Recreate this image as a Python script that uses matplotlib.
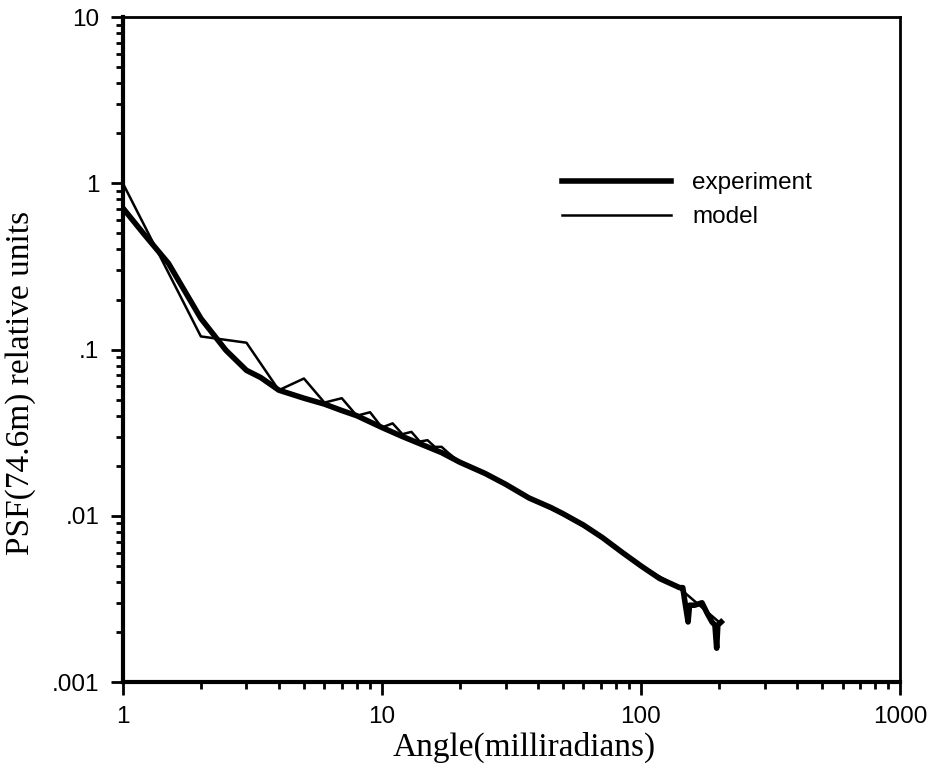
import matplotlib
matplotlib.use("Agg")
import matplotlib.pyplot as plt
from matplotlib.ticker import LogLocator, FixedLocator, FixedFormatter, NullFormatter

# measured PSF (thick line)
exp_angle = [1, 1.2, 1.5, 2, 2.5, 3, 3.4, 4, 5, 6, 7, 8, 10, 12, 15, 17, 20,
             25, 30, 37, 45, 50, 60, 71, 85, 100, 118, 141, 145, 148, 152,
             154, 161, 172, 180, 188, 193, 196, 198, 204]
exp_psf = [0.71, 0.50, 0.33, 0.154, 0.099, 0.075, 0.068, 0.057, 0.051, 0.047,
           0.043, 0.040, 0.034, 0.030, 0.026, 0.024, 0.021, 0.018, 0.0155,
           0.0128, 0.0112, 0.0103, 0.0088, 0.0074, 0.0060, 0.0050, 0.0042,
           0.0037, 0.0037, 0.0030, 0.0023, 0.0029, 0.0029, 0.0030, 0.0026,
           0.0023, 0.0022, 0.0016, 0.0022, 0.0023]

# model PSF (thin line), sampled at integer angles near the core
mod_angle = [1, 2, 3, 4, 5, 6, 7, 8, 9, 10, 11, 12, 13, 14, 15, 16, 17, 18,
             20, 25, 30, 40, 50, 70, 100, 140, 200]
mod_psf = [1.0, 0.12, 0.11, 0.057, 0.067, 0.048, 0.051, 0.040, 0.042, 0.034,
           0.036, 0.031, 0.032, 0.028, 0.0285, 0.026, 0.026, 0.024, 0.021,
           0.018, 0.0155, 0.012, 0.0102, 0.0075, 0.0050, 0.0037, 0.0023]

y_ticks = [0.001, 0.01, 0.1, 1, 10]
y_labels = [".001", ".01", ".1", "1", "10"]
x_ticks = [1, 10, 100, 1000]
x_labels = ["1", "10", "100", "1000"]

fig = plt.figure(figsize=(9.38, 7.76), dpi=100)
ax = fig.add_axes([0.131, 0.121, 0.8285, 0.857])

ax.plot(exp_angle, exp_psf, color="black", lw=4, solid_joinstyle="round",
        label="experiment")
ax.plot(mod_angle, mod_psf, color="black", lw=1.8, label="model")

ax.set_xscale("log")
ax.set_yscale("log")
ax.set_xlim(1, 1000)
ax.set_ylim(0.001, 10)

ax.xaxis.set_major_locator(FixedLocator(x_ticks))
ax.xaxis.set_major_formatter(FixedFormatter(x_labels))
ax.yaxis.set_major_locator(FixedLocator(y_ticks))
ax.yaxis.set_major_formatter(FixedFormatter(y_labels))
for axis in (ax.xaxis, ax.yaxis):
    axis.set_minor_locator(LogLocator(base=10, subs=range(2, 10), numticks=20))
    axis.set_minor_formatter(NullFormatter())

ax.tick_params(which="major", direction="out", length=9, width=2,
               labelsize=17.5, pad=8)
ax.tick_params(which="minor", direction="out", length=5, width=2)
for lab in ax.get_xticklabels() + ax.get_yticklabels():
    lab.set_family("Liberation Sans")

ax.spines["left"].set_linewidth(3)
ax.spines["bottom"].set_linewidth(3)
ax.spines["top"].set_linewidth(2)
ax.spines["right"].set_linewidth(2)

ax.set_xlabel("Angle(milliradians)", family="Liberation Serif", fontsize=24)
ax.set_ylabel("PSF(74.6m) relative units", family="Liberation Serif",
              fontsize=24)
ax.xaxis.set_label_coords(0.517, -0.075)
ax.yaxis.set_label_coords(-0.112, 0.45)

ax.legend(loc="upper left", bbox_to_anchor=(0.55, 0.785), frameon=False,
          handlelength=4.45, handletextpad=0.9, labelspacing=0.5,
          borderpad=0, prop={"family": "Liberation Sans", "size": 17.5})

fig.savefig("out.png", dpi=100)
